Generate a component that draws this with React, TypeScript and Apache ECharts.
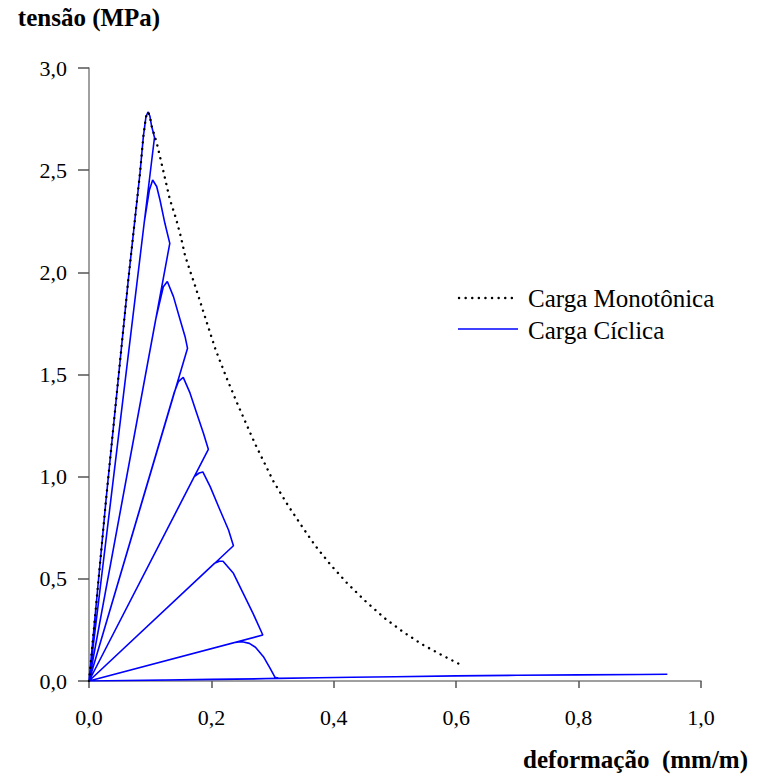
import React, { useEffect, useRef } from "react";
import * as echarts from "echarts";

const xTicks = [0, 0.2, 0.4, 0.6, 0.8, 1.0];
const yTicks = [0, 0.5, 1.0, 1.5, 2.0, 2.5, 3.0];

const seriesNames = ["Carga Monotônica", "Carga Cíclica"];

// Monotonic loading curve [deformação, tensão]
const monotonic: [number, number][] = [
  [0, 0], [0.0278, 0.886], [0.0642, 1.963], [0.0833, 2.485], [0.0888, 2.664],
  [0.093, 2.76], [0.0964, 2.785], [0.0995, 2.765], [0.102, 2.72], [0.108, 2.66],
  [0.111, 2.63], [0.118, 2.54], [0.125, 2.45], [0.132, 2.358], [0.142, 2.265],
  [0.15, 2.175], [0.157, 2.082], [0.167, 1.99], [0.172, 1.947], [0.192, 1.759],
  [0.207, 1.62], [0.225, 1.482], [0.244, 1.346], [0.271, 1.163], [0.301, 0.979],
  [0.325, 0.86], [0.349, 0.752], [0.37, 0.661], [0.395, 0.568], [0.422, 0.478],
  [0.452, 0.39], [0.482, 0.31], [0.512, 0.243], [0.544, 0.18], [0.574, 0.131],
  [0.605, 0.083],
];

// Cyclic loading curve (loops in drawing order)
const cyclic: [number, number][] = [
  // cycle 1
  [0, 0], [0.0278, 0.886], [0.0642, 1.963], [0.0833, 2.485], [0.0888, 2.664],
  [0.093, 2.76], [0.0964, 2.785], [0.0995, 2.765], [0.102, 2.72], [0.107, 2.66],
  [0, 0],
  // cycle 2
  [0.0905, 2.25], [0.0985, 2.4], [0.104, 2.452], [0.1106, 2.42], [0.116, 2.354],
  [0.124, 2.24], [0.132, 2.142],
  [0, 0],
  // cycle 3
  [0.109, 1.77], [0.1215, 1.93], [0.128, 1.955], [0.138, 1.881], [0.149, 1.767],
  [0.157, 1.685], [0.161, 1.628],
  [0, 0],
  // cycle 4
  [0.139, 1.41], [0.146, 1.465], [0.154, 1.486], [0.165, 1.41], [0.176, 1.31],
  [0.187, 1.212], [0.195, 1.134],
  [0, 0],
  // cycle 5
  [0.172, 1.0], [0.18, 1.018], [0.186, 1.023], [0.198, 0.951], [0.214, 0.837],
  [0.228, 0.739], [0.236, 0.662],
  [0, 0],
  // cycle 6
  [0.205, 0.576], [0.213, 0.586], [0.219, 0.586], [0.236, 0.527], [0.252, 0.429],
  [0.268, 0.331], [0.284, 0.225],
  [0, 0],
  // cycle 7
  [0.236, 0.187], [0.245, 0.191], [0.252, 0.191], [0.262, 0.184], [0.272, 0.165],
  [0.285, 0.119], [0.296, 0.062], [0.304, 0.018], [0.31, 0.012],
  [0, 0],
  // final branch
  [0.1, 0.004], [0.2, 0.008], [0.31, 0.013], [0.375, 0.016], [0.43, 0.018],
  [0.5, 0.021], [0.6, 0.025], [0.7, 0.028], [0.8, 0.03], [0.9, 0.032],
  [0.945, 0.033],
];

const fmt = (v: number) => v.toFixed(1).replace(".", ",");

export default function App() {
  const ref = useRef<HTMLDivElement>(null);
  useEffect(() => {
    if (!ref.current) return;
    const chart = echarts.init(ref.current, null, { renderer: "svg" });
    const font = "'Liberation Serif', 'Times New Roman', serif";
    const blue = "#0000ff";
    chart.setOption({
      animation: false,
      backgroundColor: "#ffffff",
      textStyle: { fontFamily: font },
      grid: { left: 89, right: 59, top: 68, bottom: 97, containLabel: false },
      graphic: [
        {
          type: "line",
          shape: { x1: 459, y1: 298, x2: 518, y2: 298 },
          style: { stroke: "#000", lineWidth: 2.4, lineDash: [0.1, 6.5], lineCap: "round" },
        },
        {
          type: "text",
          x: 528,
          y: 298,
          style: {
            text: seriesNames[0], fill: "#000", font: `25px ${font}`,
            verticalAlign: "middle", align: "left",
          },
        },
        {
          type: "line",
          shape: { x1: 458, y1: 329, x2: 518, y2: 329 },
          style: { stroke: blue, lineWidth: 1.5 },
        },
        {
          type: "text",
          x: 528,
          y: 330,
          style: {
            text: seriesNames[1], fill: "#000", font: `25px ${font}`,
            verticalAlign: "middle", align: "left",
          },
        },
      ],
      xAxis: {
        type: "value",
        min: 0,
        max: 1.0,
        interval: 0.2,
        name: "deformação  (mm/m)",
        nameLocation: "end",
        nameGap: 47,
        nameTextStyle: {
          fontFamily: font, fontSize: 25, fontWeight: "bold", color: "#000",
          align: "right", verticalAlign: "top", padding: [66, 0, 0, 0],
        },
        axisLine: { show: true, lineStyle: { color: "#808080", width: 1.5 } },
        axisTick: { show: true, length: 7, lineStyle: { color: "#555", width: 1.5 } },
        axisLabel: {
          margin: 25, fontSize: 22, color: "#000", fontFamily: font,
          formatter: (v: number) => fmt(v),
        },
        splitLine: { show: false },
      },
      yAxis: {
        type: "value",
        min: 0,
        max: 3.0,
        interval: 0.5,
        name: "tensão (MPa)",
        nameLocation: "end",
        nameGap: 38,
        nameTextStyle: {
          fontFamily: font, fontSize: 25, fontWeight: "bold", color: "#000",
          align: "center",
        },
        axisLine: { show: true, lineStyle: { color: "#808080", width: 1.5 } },
        axisTick: { show: true, length: 11, lineStyle: { color: "#555", width: 1.5 } },
        axisLabel: {
          margin: 22, fontSize: 22, color: "#000", fontFamily: font,
          formatter: (v: number) => fmt(v),
        },
        splitLine: { show: false },
      },
      series: [
        {
          name: seriesNames[0],
          type: "line",
          data: monotonic,
          showSymbol: false,
          symbol: "none",
          z: 3,
          lineStyle: { color: "#000", width: 2.4, type: [0.1, 6.5], cap: "round" },
          itemStyle: { color: "#000" },
        },
        {
          name: seriesNames[1],
          type: "line",
          data: cyclic,
          showSymbol: false,
          symbol: "none",
          z: 2,
          lineStyle: { color: blue, width: 1.6 },
          itemStyle: { color: blue },
        },
      ],
    });
    return () => chart.dispose();
  }, []);
  return (
    <div
      ref={ref}
      style={{ position: "absolute", left: 0, top: 0, width: 760, height: 778 }}
    />
  );
}
